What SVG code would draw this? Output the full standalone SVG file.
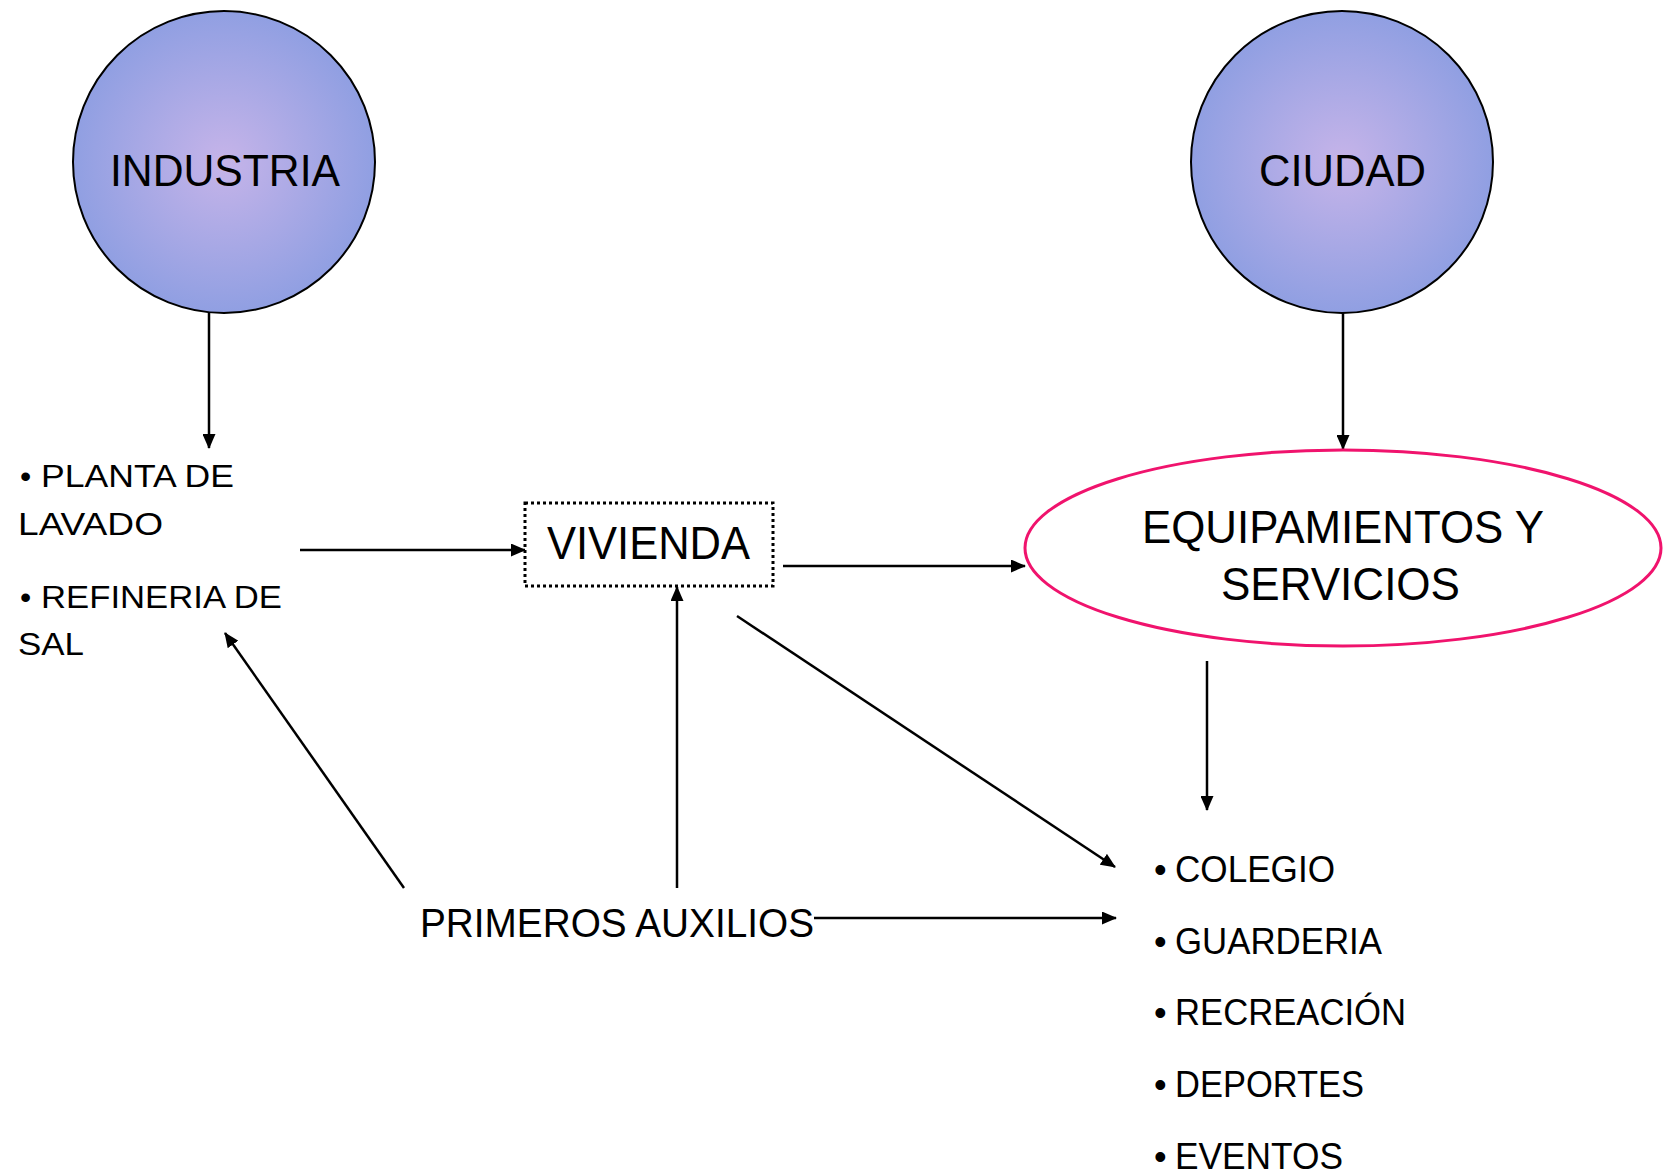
<svg xmlns="http://www.w3.org/2000/svg" width="1667" height="1174" viewBox="0 0 1667 1174">
<defs>
<radialGradient id="g" cx="50%" cy="50%" r="50%">
<stop offset="0" stop-color="#c6b4e9"/>
<stop offset="1" stop-color="#909fe2"/>
</radialGradient>
<marker id="ah" markerUnits="userSpaceOnUse" markerWidth="15" markerHeight="13" refX="14" refY="6.5" orient="auto">
<path d="M0,0 L15,6.5 L0,13 z" fill="#000"/>
</marker>
</defs>
<style>
text{font-family:"Liberation Sans",Arial,sans-serif;fill:#000}
.big{font-size:44px}
.mid{font-size:46px}
.sm{font-size:32px}
.li{font-size:36px}
.c{stroke:#000;stroke-width:2.5;fill:none;marker-end:url(#ah)}
</style>
<rect width="1667" height="1174" fill="#fff"/>
<g id="connectors">
<line class="c" x1="209" y1="313" x2="209" y2="448"/>
<line class="c" x1="1343" y1="313" x2="1343" y2="449"/>
<line class="c" x1="300" y1="550" x2="525" y2="550"/>
<line class="c" x1="783" y1="566" x2="1025" y2="566"/>
<line class="c" x1="1207" y1="661" x2="1207" y2="810"/>
<line class="c" x1="737" y1="616" x2="1115" y2="867"/>
<line class="c" x1="814" y1="918" x2="1116" y2="918"/>
<line class="c" x1="677" y1="888" x2="677" y2="587"/>
<line class="c" x1="404" y1="888" x2="225" y2="633"/>
</g>
<g id="industria">
<circle cx="224" cy="162" r="151" fill="url(#g)" stroke="#000" stroke-width="2"/>
<text class="big" x="110" y="186" textLength="230" lengthAdjust="spacingAndGlyphs">INDUSTRIA</text>
</g>
<g id="ciudad">
<circle cx="1342" cy="162" r="151" fill="url(#g)" stroke="#000" stroke-width="2"/>
<text class="big" x="1259" y="186" textLength="167" lengthAdjust="spacingAndGlyphs">CIUDAD</text>
</g>
<g id="industria-list">
<text class="sm" x="20" y="487"><tspan>•</tspan><tspan x="41" textLength="193" lengthAdjust="spacingAndGlyphs">PLANTA DE</tspan></text>
<text class="sm" x="18" y="535" textLength="145" lengthAdjust="spacingAndGlyphs">LAVADO</text>
<text class="sm" x="20" y="608"><tspan>•</tspan><tspan x="41" textLength="241" lengthAdjust="spacingAndGlyphs">REFINERIA DE</tspan></text>
<text class="sm" x="18" y="655" textLength="66" lengthAdjust="spacingAndGlyphs">SAL</text>
</g>
<g id="vivienda">
<rect x="525" y="503" width="248" height="83" fill="#fff" stroke="#000" stroke-width="3" stroke-dasharray="3,3"/>
<text class="mid" x="547" y="559" textLength="203" lengthAdjust="spacingAndGlyphs">VIVIENDA</text>
</g>
<g id="equipamientos">
<ellipse cx="1343" cy="548" rx="318" ry="98" fill="#fff" stroke="#f0136d" stroke-width="3"/>
<text class="mid" x="1142" y="543" textLength="402" lengthAdjust="spacingAndGlyphs">EQUIPAMIENTOS Y</text>
<text class="mid" x="1221" y="600" textLength="239" lengthAdjust="spacingAndGlyphs">SERVICIOS</text>
</g>
<g id="primeros">
<text class="li" x="420" y="937" style="font-size:40px" textLength="394" lengthAdjust="spacingAndGlyphs">PRIMEROS AUXILIOS</text>
</g>
<g id="equip-list">
<text class="li" x="1154" y="882"><tspan>•</tspan><tspan x="1175" textLength="160" lengthAdjust="spacingAndGlyphs">COLEGIO</tspan></text>
<text class="li" x="1154" y="954"><tspan>•</tspan><tspan x="1175" textLength="207" lengthAdjust="spacingAndGlyphs">GUARDERIA</tspan></text>
<text class="li" x="1154" y="1025"><tspan>•</tspan><tspan x="1175" textLength="231" lengthAdjust="spacingAndGlyphs">RECREACIÓN</tspan></text>
<text class="li" x="1154" y="1097"><tspan>•</tspan><tspan x="1175" textLength="189" lengthAdjust="spacingAndGlyphs">DEPORTES</tspan></text>
<text class="li" x="1154" y="1169"><tspan>•</tspan><tspan x="1175" textLength="168" lengthAdjust="spacingAndGlyphs">EVENTOS</tspan></text>
</g>
</svg>
